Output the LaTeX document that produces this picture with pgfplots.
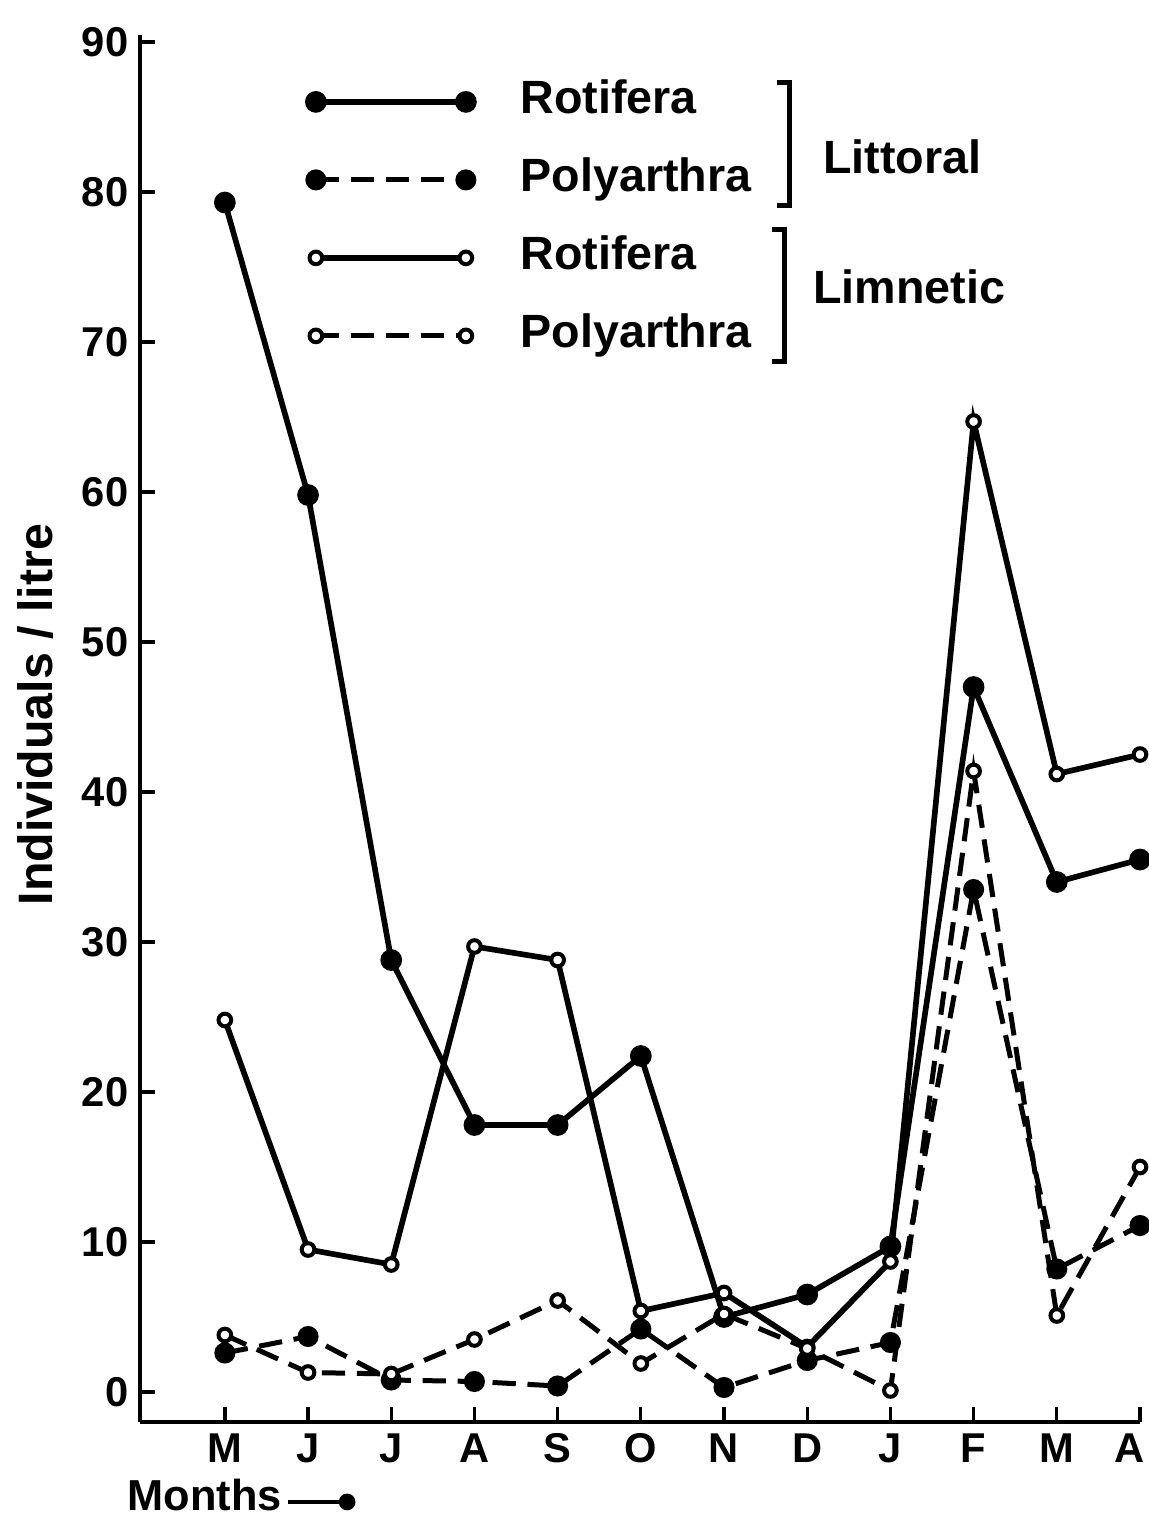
\documentclass[border=0pt]{standalone}
\usepackage{fontspec}
\setmainfont{Liberation Sans}
\usepackage{pgfplots}
\pgfplotsset{compat=1.18}
\usetikzlibrary{arrows.meta}

% months: M J J A S O N D J F M A -> 0..11
\pgfplotstableread{
x litrot litpoly limrot limpoly
0  79.3  2.6  24.8  3.8
1  59.8  3.7   9.5  1.3
2  28.8  0.8   8.5  1.2
3  17.8  0.7  29.7  3.5
4  17.8  0.4  28.8  6.1
5  22.4  4.2   5.4  1.9
6   5.0  0.3   6.6  5.2
7   6.5  2.1   3.0  2.9
8   9.7  3.3   8.7  0.1
9  47.0 33.5  64.7 41.4
10 34.0  8.2  41.2  5.1
11 35.5 11.1  42.5 15.0
}\data

\begin{document}
\begin{tikzpicture}
\begin{axis}[
    name=ax,
    scale only axis,
    width=300pt, height=416.1pt,
    xmin=-1.02, xmax=11, ymin=-2, ymax=90.47,
    axis lines=left,
    axis line style={-, line width=1.3pt},
    xtick={0,...,11},
    xticklabels={M,J,J,A,S,O,N,D,J,F,M,\makebox[0pt][r]{A\kern-1.5pt}},
    ytick={0,10,...,90},
    tick align=inside,
    major tick length=4.5pt,
    tick style={line width=1pt, black},
    ticklabel style={font=\fontsize{12.5}{14}\selectfont\bfseries},
    /pgf/number format/assume math mode=true,
    ylabel={Individuals / litre},
    ylabel style={font=\fontsize{14.5}{16}\selectfont\bfseries, at={(axis description cs:-0.105,0.51)}, anchor=center},
    clip=false,
    legend cell align=left,
    legend style={at={(axis cs:0.99,87.5)}, anchor=north west, draw=none, fill=none,
        inner sep=0pt, row sep=10.4pt, column sep=14pt,
        font=\fontsize{14}{16}\selectfont\bfseries,
        nodes={inner sep=0pt, text height=10pt, text depth=3pt}},
    legend image code/.code={\draw[#1] plot coordinates {(0pt,0pt) (45pt,0pt)};},
]
\addplot[black, line width=1.7pt, mark=*, mark size=2.4pt, mark options={solid, fill=black}]
    table[x=x, y=litrot] {\data};
\addlegendentry{Rotifera}
\addplot[black, line width=1.5pt, dash pattern=on 7pt off 3.5pt, mark=*, mark size=2.4pt, mark options={solid, fill=black}]
    table[x=x, y=litpoly] {\data};
\addlegendentry{Polyarthra}
\addplot[black, line width=1.7pt, mark=*, mark size=1.9pt, mark options={solid, fill=white, line width=1.2pt}]
    table[x=x, y=limrot] {\data};
\addlegendentry{Rotifera}
\addplot[black, line width=1.5pt, dash pattern=on 7pt off 3.5pt, mark=*, mark size=1.9pt, mark options={solid, fill=white, line width=1.2pt}]
    table[x=x, y=limpoly] {\data};
\addlegendentry{Polyarthra}

% group brackets
\draw[line width=1.5pt] (axis cs:6.64,87.33) -- (axis cs:6.79,87.33) -- (axis cs:6.79,79.13) -- (axis cs:6.64,79.13);
\draw[line width=1.5pt] (axis cs:6.58,77.47) -- (axis cs:6.73,77.47) -- (axis cs:6.73,68.67) -- (axis cs:6.58,68.67);
\node[anchor=west, font=\fontsize{14}{16}\selectfont\bfseries] at (axis cs:7.05,82.33) {Littoral};
\node[anchor=west, font=\fontsize{14}{16}\selectfont\bfseries] at (axis cs:6.93,73.67) {Limnetic};

% x label
\node[font=\fontsize{13}{15}\selectfont\bfseries] at (axis cs:-0.24,-6.9) {Months};
\draw[line width=1.3pt, -{Circle[length=5pt]}] (axis cs:0.76,-7.33) -- (axis cs:1.57,-7.33);
\end{axis}
\pgfresetboundingbox
\path[use as bounding box] ([shift={(-42pt,-29.4pt)}]ax.south west) rectangle ++(344.7pt,456pt);
\end{tikzpicture}
\end{document}
